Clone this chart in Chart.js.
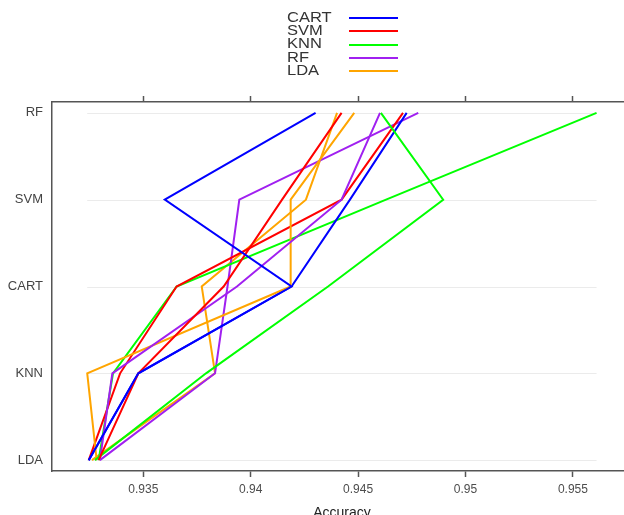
<!DOCTYPE html>
<html>
<head>
<meta charset="utf-8">
<script src="https://cdn.jsdelivr.net/npm/chart.js@4.4.1/dist/chart.umd.min.js"></script>
<style>
  html, body { margin: 0; padding: 0; background: #fff; overflow: hidden; }
  #wrap { width: 624px; height: 515px; overflow: hidden; position: relative; }
  canvas { display: block; }
</style>
</head>
<body>
<div id="wrap"><canvas id="chart" width="640" height="525"></canvas></div>
<script>
// rows of the plot, bottom to top
const categories = ["LDA", "KNN", "CART", "SVM", "RF"];
const seriesNames = ["CART", "SVM", "KNN", "RF", "LDA"];
const seriesColors = ["#0000ff", "#ff0000", "#00ff00", "#a020f0", "#ffa500"];
const tickValues = [0.935, 0.94, 0.945, 0.95, 0.955];
const tickLabels = ["0.935", "0.94", "0.945", "0.95", "0.955"];

// one resample per array, values in the order of categories
const resample1 = [0.93246, 0.93477, 0.9419, 0.9360, 0.94302];
const resample2 = [0.93292, 0.93477, 0.93874, 0.94146, 0.94423];
const resample3 = [0.93275, 0.93792, 0.9436, 0.94896, 0.94606];
const resample4 = [0.93298, 0.93356, 0.93936, 0.94423, 0.94602];
const resample5 = [0.93283, 0.93239, 0.94186, 0.94186, 0.94482];
const resample6 = [0.93246, 0.93477, 0.9419, 0.94462, 0.94726];
const resample7 = [0.93246, 0.93392, 0.93655, 0.94423, 0.94709];
const resample8 = [0.93292, 0.93359, 0.93655, 0.9463, 0.9561];
const resample9 = [0.93298, 0.93834, 0.93892, 0.93947, 0.9478];
const resample10 = [0.93261, 0.93834, 0.93772, 0.94257, 0.94402];

const resamples = [resample1, resample2, resample3, resample4, resample5,
                   resample6, resample7, resample8, resample9, resample10];

const FONT = '"Liberation Sans", Arial, sans-serif';
Chart.defaults.font.family = FONT;

// light row lines spanning only the data range
const rowLines = {
  id: "rowLines",
  beforeDatasetsDraw(chart) {
    const { ctx, scales: { x, y } } = chart;
    const all = resamples.flat();
    const x0 = x.getPixelForValue(Math.min(...all));
    const x1 = x.getPixelForValue(Math.max(...all));
    ctx.save();
    ctx.strokeStyle = "#ebebeb";
    ctx.lineWidth = 1;
    categories.forEach((c, i) => {
      const py = Math.round(y.getPixelForValue(i + 1)) + 0.5;
      ctx.beginPath();
      ctx.moveTo(x0, py);
      ctx.lineTo(x1, py);
      ctx.stroke();
    });
    ctx.restore();
  }
};

// key at the top: name on the left, coloured line on the right
const keyBox = {
  id: "keyBox",
  afterDraw(chart) {
    const ctx = chart.ctx;
    ctx.save();
    ctx.font = "14px " + FONT;
    ctx.textBaseline = "middle";
    seriesNames.forEach((name, i) => {
      const y = 18 + i * 13.25;
      ctx.save();
      ctx.translate(287, y);
      ctx.scale(1.18, 1);
      ctx.fillStyle = "#333";
      ctx.fillText(name, 0, 0);
      ctx.restore();
      ctx.strokeStyle = seriesColors[i];
      ctx.lineWidth = 2;
      ctx.beginPath();
      ctx.moveTo(349, Math.round(y));
      ctx.lineTo(398, Math.round(y));
      ctx.stroke();
    });
    ctx.restore();
  }
};

new Chart(document.getElementById("chart").getContext("2d"), {
  type: "scatter",
  data: {
    datasets: resamples.map((vals, i) => ({
      label: seriesNames[i % 5],
      data: vals.map((v, j) => ({ x: v, y: j + 1 })),
      showLine: true,
      borderColor: seriesColors[i % 5],
      borderWidth: 2,
      pointRadius: 0,
      tension: 0,
      fill: false
    }))
  },
  options: {
    responsive: false,
    animation: false,
    layout: { padding: { top: 96, right: 8, bottom: 0, left: 0 } },
    plugins: {
      legend: { display: false },
      tooltip: { enabled: false }
    },
    scales: {
      x: {
        type: "linear",
        position: "bottom",
        min: 0.93075,
        max: 0.95775,
        afterBuildTicks: (s) => { s.ticks = tickValues.map((v) => ({ value: v })); },
        afterFit: (s) => { s.height = 54; },
        ticks: {
          callback: (v, i) => tickLabels[i],
          color: "#4d4d4d",
          font: { size: 12 },
          padding: 5,
          maxRotation: 0,
          autoSkip: false
        },
        grid: {
          display: true,
          drawOnChartArea: false,
          drawTicks: true,
          tickLength: 6,
          tickColor: "#555",
          tickWidth: 1.5
        },
        border: { display: true, color: "#555", width: 1.5 },
        title: {
          display: true,
          text: "Accuracy",
          color: "#222",
          font: { size: 14 },
          padding: { top: 0, bottom: 3 }
        }
      },
      x2: {
        type: "linear",
        position: "top",
        min: 0.93075,
        max: 0.95775,
        afterBuildTicks: (s) => { s.ticks = tickValues.map((v) => ({ value: v })); },
        afterFit: (s) => { s.height = 6; },
        ticks: { display: false },
        grid: {
          display: true,
          drawOnChartArea: false,
          drawTicks: true,
          tickLength: 6,
          tickColor: "#555",
          tickWidth: 1.5
        },
        border: { display: true, color: "#555", width: 1.5 }
      },
      y: {
        type: "linear",
        min: 0.875,
        max: 5.125,
        afterBuildTicks: (s) => { s.ticks = categories.map((c, i) => ({ value: i + 1 })); },
        afterFit: (s) => { s.width = 52; },
        ticks: {
          callback: (v) => categories[Math.round(v) - 1],
          color: "#444",
          font: { size: 13 },
          padding: 9
        },
        grid: { display: false, drawTicks: false },
        border: { display: true, color: "#555", width: 1.5 }
      }
    }
  },
  plugins: [rowLines, keyBox]
});
</script>
</body>
</html>
